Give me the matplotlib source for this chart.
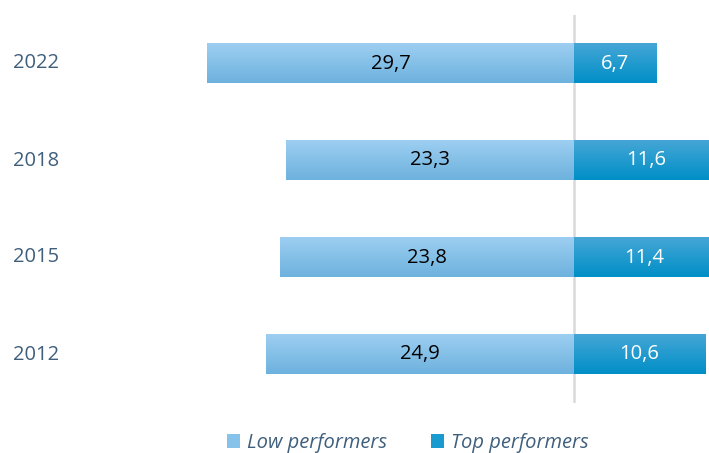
import numpy as np
import matplotlib.pyplot as plt
from matplotlib.patches import Patch
from matplotlib.colors import LinearSegmentedColormap
import matplotlib.transforms as mtransforms

plt.rcParams['font.family'] = ['Open Sans', 'DejaVu Sans']

# data (bottom to top)
years = ['2012', '2015', '2018', '2022']
low = [24.9, 23.8, 23.3, 29.7]
top = [10.6, 11.4, 11.6, 6.7]

txt_col = '#3F5F7C'
low_cmap = LinearSegmentedColormap.from_list('low', ['#6DB2DE', '#9DCEF1'])
top_cmap = LinearSegmentedColormap.from_list('top', ['#008FC7', '#45A6D6'])

fig = plt.figure(figsize=(7.09, 4.53), dpi=100)
# px/unit ~12.36, zero at x=574px
W, H = 709, 453
scale = 12.36
x0 = 100
ax = fig.add_axes([x0 / W, (H - 403) / H, (W - x0) / W, (403 - 15) / H])

grad = np.linspace(0, 1, 64).reshape(-1, 1)
h = 0.41
ypos = np.arange(len(years))
for y, lo, tp in zip(ypos, low, top):
    ax.imshow(grad, cmap=low_cmap, extent=(-lo, 0, y - h / 2, y + h / 2),
              aspect='auto', origin='lower', zorder=2)
    ax.imshow(grad, cmap=top_cmap, extent=(0, tp, y - h / 2, y + h / 2),
              aspect='auto', origin='lower', zorder=2)
    ax.text(-lo / 2, y, f'{lo:.1f}'.replace('.', ','), ha='center', va='center',
            fontsize=14.5, color='black', zorder=3)
    ax.text(tp / 2, y, f'{tp:.1f}'.replace('.', ','), ha='center', va='center',
            fontsize=14.5, color='white', zorder=3)

ax.set_xlim(-(574 - x0) / scale, (W - 574) / scale)
ax.set_ylim(-0.5, 3.5)
ax.axvline(0, color='#D9D9D9', lw=1.8, zorder=1)
for s in ax.spines.values():
    s.set_visible(False)
ax.set_xticks([])
ax.set_yticks([])

trans = mtransforms.blended_transform_factory(fig.transFigure, ax.transData)
for y, yr in zip(ypos, years):
    ax.text(13 / W, y, yr, transform=trans, ha='left', va='center',
            fontsize=14.5, color=txt_col)

handles = [Patch(facecolor='#86C2EA', label='Low performers'),
           Patch(facecolor='#1A9BD0', label='Top performers')]
leg = fig.legend(handles=handles, loc='center', bbox_to_anchor=(408 / W, 1 - 443 / H),
                 ncol=2, frameon=False, handlelength=0.65, handleheight=0.65,
                 handletextpad=0.35, columnspacing=2.2,
                 prop={'style': 'italic', 'size': 14.5})
for t in leg.get_texts():
    t.set_color(txt_col)

fig.savefig('out.png', dpi=100)
